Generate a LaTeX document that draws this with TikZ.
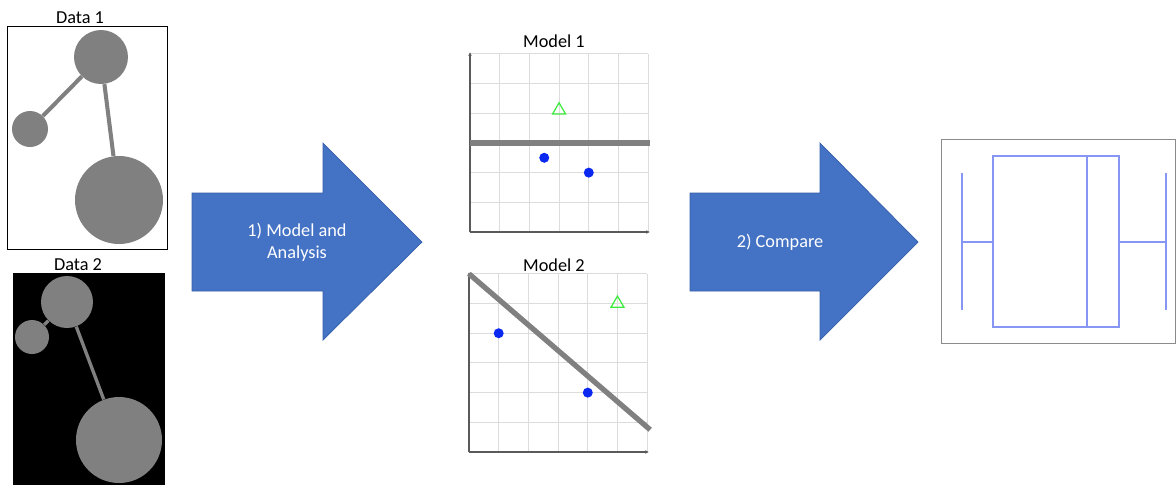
\documentclass[tikz,border=0pt]{standalone}
\usepackage{fontspec}
\setmainfont{Carlito}
\usetikzlibrary{shapes.geometric,arrows.meta}

\definecolor{blobgray}{RGB}{128,128,128}
\definecolor{arrowblue}{RGB}{68,114,196}
\definecolor{arrowedge}{RGB}{55,95,170}
\definecolor{gridgray}{RGB}{220,220,220}
\definecolor{axisgray}{RGB}{90,90,90}
\definecolor{dotblue}{RGB}{10,40,240}
\definecolor{trigreen}{RGB}{60,235,60}
\definecolor{boxblue}{RGB}{135,150,245}

\tikzset{
    lbl/.style={font=\fontsize{10.4}{12.5}\selectfont, inner sep=0pt},
    blob/.style={circle, fill=blobgray, inner sep=0pt},
    link/.style={blobgray, line width=2.3pt},
    bigarrow/.style={fill=arrowblue, draw=arrowedge, line width=0.4pt},
    arrowtext/.style={lbl, text=white, align=center},
    gridline/.style={gridgray, line width=0.5pt},
    axis/.style={axisgray, line width=0.6pt, -{Stealth[length=2pt,width=2pt]}},
    fitline/.style={blobgray, line width=3pt},
    dot/.style={circle, fill=dotblue, inner sep=0pt, minimum size=0.2cm},
    tri/.style={regular polygon, regular polygon sides=3, draw=trigreen,
        line width=0.7pt, inner sep=0pt, minimum size=0.3cm},
    boxline/.style={boxblue, line width=0.6pt}
}

\begin{document}
\begin{tikzpicture}[x=0.02cm, y=-0.02cm]
    \useasboundingbox (0,0) rectangle (1176,485);

    % Data 1
    \node[lbl] (d1lbl) at (80,18) {Data 1};
    \draw[black, line width=0.45pt] (7,26) rectangle (167,249);
    \node[blob, minimum size=1.08cm] (d1a) at (101,57) {};
    \node[blob, minimum size=0.72cm] (d1b) at (30,129) {};
    \node[blob, minimum size=1.76cm] (d1c) at (119,200) {};
    \draw[link] (d1b) -- (d1a);
    \draw[link] (d1a) -- (d1c);

    % Data 2
    \node[lbl] (d2lbl) at (78,265) {Data 2};
    \fill[black] (13,273) rectangle (165,485);
    \node[blob, minimum size=1.04cm] (d2a) at (67,302) {};
    \node[blob, minimum size=0.68cm] (d2b) at (32,337) {};
    \node[blob, minimum size=1.72cm] (d2c) at (119,440) {};
    \draw[link, line width=1.9pt] (d2b) -- (d2a);
    \draw[link, line width=1.9pt] (d2a) -- (d2c);

    % Step arrows
    \draw[bigarrow] (192,193) -- (323,193) -- (323,143) -- (422,242)
        -- (323,340) -- (323,291) -- (192,291) -- cycle;
    \node[arrowtext] (step1) at (297,242) {1) Model and\\Analysis};
    \draw[bigarrow] (690,193) -- (820,193) -- (820,143) -- (918,242)
        -- (820,340) -- (820,291) -- (690,291) -- cycle;
    \node[arrowtext] (step2) at (780,242) {2) Compare};

    % Model 1
    \node[lbl] (m1lbl) at (554,41) {Model 1};
    \begin{scope}[shift={(470,232)}, x=0.594cm, y=0.594cm]
        \foreach \i in {1,...,6} {
            \draw[gridline] (\i,0) -- (\i,6);
            \draw[gridline] (0,\i) -- (6,\i);
        }
        \draw[axis] (0,0) -- (0,6.05);
        \draw[axis] (0,0) -- (6.05,0);
        \draw[fitline] (0,3) -- (6.05,3);
        \node[dot] (m1p1) at (2.5,2.5) {};
        \node[dot] (m1p2) at (4,2) {};
        \node[tri] (m1t) at (3,4.1) {};
    \end{scope}

    % Model 2
    \node[lbl] (m2lbl) at (554,265) {Model 2};
    \begin{scope}[shift={(469,452)}, x=0.594cm, y=0.594cm]
        \foreach \i in {1,...,6} {
            \draw[gridline] (\i,0) -- (\i,6);
            \draw[gridline] (0,\i) -- (6,\i);
        }
        \draw[axis] (0,0) -- (0,6.05);
        \draw[axis] (0,0) -- (6.05,0);
        \draw[fitline] (0,6) -- (6.1,0.75);
        \node[dot] (m2p1) at (1,4) {};
        \node[dot] (m2p2) at (4,2) {};
        \node[tri] (m2t) at (5,5) {};
    \end{scope}

    % Comparison box plot
    \draw[axisgray!70, line width=0.5pt] (941,139) rectangle (1175.5,343);
    \draw[boxline] (993,156) rectangle (1119,327);
    \draw[boxline] (1087,156) -- (1087,327);
    \draw[boxline] (962,173) -- (962,310);
    \draw[boxline] (962,242) -- (993,242);
    \draw[boxline] (1166,173) -- (1166,310);
    \draw[boxline] (1119,242) -- (1166,242);
\end{tikzpicture}
\end{document}
